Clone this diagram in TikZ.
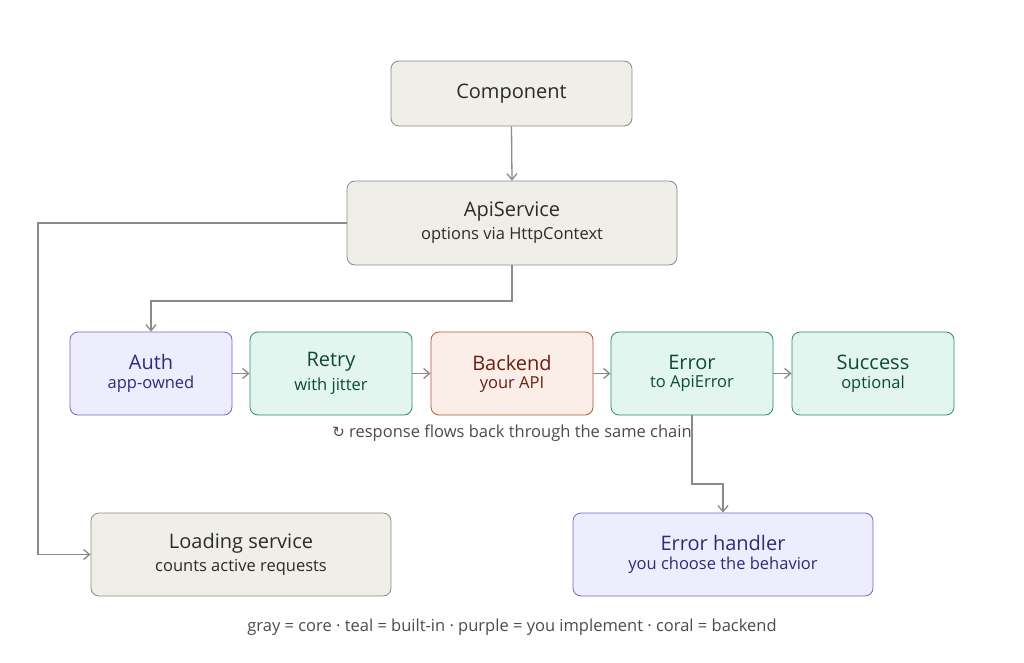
\documentclass[tikz,border=0pt]{standalone}
\usepackage{fontspec}
\setmainfont{Open Sans}
\usetikzlibrary{arrows.meta}
\definecolor{gfill}{HTML}{F0EEE8}\definecolor{gdraw}{HTML}{8A8A85}\definecolor{gtext}{HTML}{2B2B28}
\definecolor{pfill}{HTML}{EEEDFD}\definecolor{pdraw}{HTML}{6F68C8}\definecolor{ptext}{HTML}{2F2A7A}
\definecolor{tfill}{HTML}{E2F5EE}\definecolor{tdraw}{HTML}{2F8A6A}\definecolor{ttext}{HTML}{0C4A35}
\definecolor{cfill}{HTML}{FBEEE8}\definecolor{cdraw}{HTML}{B5553A}\definecolor{ctext}{HTML}{6A2010}
\definecolor{arr}{HTML}{8A8A88}
\tikzset{
 box/.style={draw, rounded corners=8pt, line width=0.8pt, align=center, inner sep=0pt},
 gbox/.style={box, fill=gfill, draw=gdraw, text=gtext},
 pbox/.style={box, fill=pfill, draw=pdraw, text=ptext},
 tbox/.style={box, fill=tfill, draw=tdraw, text=ttext},
 cbox/.style={box, fill=cfill, draw=cdraw, text=ctext},
 conn/.style={draw=arr, line width=1.3pt, -{Straight Barb[length=6pt,width=10pt]}},
}
\newcommand{\mytl}[1]{{\fontsize{20}{24}\selectfont #1}}
\newcommand{\mysl}[1]{{\fontsize{16.5}{20}\selectfont #1}}
\begin{document}
\begin{tikzpicture}[x=1pt,y=-1pt]
\useasboundingbox (0,0) rectangle (1024,663);
\node[gbox, minimum width=241pt, minimum height=65pt] (comp) at (511.5,93.5) {\mytl{Component}};
\node[gbox, minimum width=330pt, minimum height=84pt] (api) at (512,223) {\mytl{ApiService}\\[5pt]\mysl{options via HttpContext}};
\foreach \n/\s/\x/\a/\b in {auth/pbox/151/Auth/app-owned, retry/tbox/331/Retry/with jitter, back/cbox/512/Backend/your API, err/tbox/692/Error/to ApiError, succ/tbox/873/Success/optional}
  \node[\s, minimum width=162pt, minimum height=83pt] (\n) at (\x,373.5) {\mytl{\a}\\[5pt]\mysl{\b}};
\node[gbox, minimum width=300pt, minimum height=83pt] (load) at (241,554.5) {\mytl{Loading service}\\[5pt]\mysl{counts active requests}};
\node[pbox, minimum width=300pt, minimum height=83pt] (eh) at (723,554.5) {\mytl{Error handler}\\[5pt]\mysl{you choose the behavior}};
\node[text=gtext!85] (resp) at (512,433) {{\fontspec{DejaVu Sans}\fontsize{15}{18}\selectfont ↻}\mysl{ response flows back through the same chain}};
\node[text=gtext!85] (leg) at (512,627) {\mysl{gray = core · teal = built-in · purple = you implement · coral = backend}};
\draw[conn] (comp.south) -- (api.north);
\draw[conn] (api.south) |- (331,301) -| (auth.north);
\draw[conn] (api.west) -| (38,554.5) -- (load.west);
\draw[conn] (auth) -- (retry);
\draw[conn] (retry) -- (back);
\draw[conn] (back) -- (err);
\draw[conn] (err) -- (succ);
\draw[conn] (err.south) |- (707,484) -| (eh.north);
\end{tikzpicture}
\end{document}
